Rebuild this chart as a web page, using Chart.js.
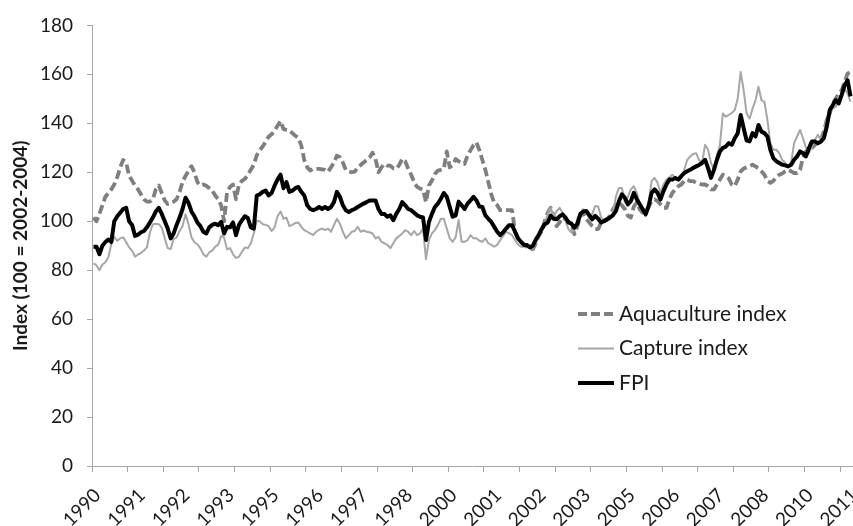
<!DOCTYPE html>
<html lang="en">
<head>
  <meta charset="UTF-8">
  <title>Fish price index</title>
  <script src="https://cdn.jsdelivr.net/npm/chart.js"></script>
  <style>
    body {
      margin: 0;
      background: #fff;
    }
    #wrap {
      width: 853px;
      height: 526px;
    }
  </style>
</head>
<body>
  <div id="wrap"><canvas id="fpi_chart" width="853" height="526"></canvas></div>

  <script>
    // Monthly index values, Jan 1990 - Apr 2011 (one row per year)
    const startYear = 1990;
    const tickYears = ['1990', '1991', '1992', '1993', '1995', '1996', '1997', '1998', '2000',
                       '2001', '2002', '2003', '2005', '2006', '2007', '2008', '2010', '2011'];
    const labelEvery = 15;   // a year label every 15 months
    const tickEvery = 12;    // a tick mark every 12 months

    const aquaculture = [
      101.5, 100, 103, 106.5, 110, 111.5, 113, 115, 118, 122, 125, 124,
      118.5, 116.6, 114.5, 113, 111, 109, 108, 108, 109, 113, 114.6, 111.5,
      108.5, 107, 107.5, 108, 109, 112, 116, 118.5, 120.5, 122.5, 120, 116,
      114.6, 115, 114.5, 113.5, 112.5, 110.5, 109, 106.5, 100, 112, 114, 115,
      109, 115, 116.5, 117.3, 119, 121, 123, 127, 129, 130.5, 132.5, 134.5,
      135.5, 137, 139, 141, 137.6, 137.3, 137, 136, 134.9, 134, 131, 125,
      122, 120.7, 121.4, 121.4, 121.4, 121.2, 121, 120.2, 122, 124, 126.8, 126.2,
      124, 121, 120.3, 120, 120.3, 122, 123, 124, 125, 126, 128, 125.4,
      120, 122, 123.4, 122.7, 122.7, 121.6, 121.4, 123, 125.5, 124.5, 121.5, 119,
      116, 114, 113.3, 113, 107.8, 114.6, 116.6, 119.3, 120.7, 121, 121.4, 128.5,
      122, 123, 125.4, 124.5, 124, 123.4, 126.8, 129, 131, 132.2, 129, 125,
      121, 116, 111, 107.5, 106.5, 104.5, 104.5, 104.5, 104.5, 104.5, 95.7, 93,
      91.6, 90.5, 89.5, 88.6, 88.6, 91, 94, 96, 100, 103.5, 105.5, 102.2,
      98, 99.5, 101.5, 100.8, 99.8, 98.8, 94.7, 98, 102.2, 103.5, 100.8, 99.5,
      98, 96.8, 96.8, 99.5, 100.1, 100.8, 102.2, 104.9, 107, 107.6, 106.5, 104.9,
      102.2, 101.5, 106, 107.6, 104.9, 103.5, 104, 106, 108.2, 108.9, 108.2, 106.9,
      105.5, 105.5, 109, 111.6, 113, 114.3, 115, 116.4, 117, 116.4, 116.4, 115.7,
      115.3, 115, 115, 114.3, 113, 113, 115, 117, 119, 118.4, 117.5, 115,
      114.3, 117, 120.4, 121.5, 122, 122.4, 123.1, 122.4, 121.6, 120.4, 119, 116.4,
      115.7, 116.5, 118, 119, 119.5, 120.4, 121, 120.4, 119.7, 119.7, 121, 126,
      128.5, 129, 129.9, 131.2, 131.9, 133.2, 136.6, 141.4, 144, 148.1, 150, 152,
      153.5, 156.9, 160.3, 161
    ];

    const capture = [
      82.8, 82, 80, 82.3, 83.2, 85.3, 90.7, 93.6, 92, 93, 93.4, 91.5,
      89.3, 88, 85.5, 86.4, 87, 88, 89.3, 95.4, 98.8, 99, 98.8, 97.4,
      93, 89, 88.6, 92.7, 93.4, 96, 98, 102.8, 98.8, 93.4, 91.4, 90.5,
      89, 86.5, 85.5, 87.3, 88, 89.6, 90.3, 94, 93.3, 88.5, 89, 86.5,
      85, 85.5, 87.5, 89.3, 89, 91, 95, 100.2, 100, 98.8, 98.5, 98,
      96, 97.5, 102, 104, 101, 101.5, 98, 98.5, 99.3, 99.5, 97.7, 96.4,
      95.7, 95, 94.3, 95.7, 96.5, 97, 96.4, 97, 95.7, 98.4, 101, 99,
      95.7, 93, 94.3, 95.7, 96, 97.7, 95.7, 96.2, 95.7, 95.5, 95, 93,
      93.6, 91.6, 91, 90.3, 89, 91, 93, 94, 95, 96.4, 95.7, 94.3,
      96, 94.3, 95, 97, 84.5, 92.3, 95, 96.4, 98.4, 101, 101, 97,
      93, 91.6, 93.5, 100.4, 91.6, 91.6, 92.3, 94.3, 93, 93, 92, 91.6,
      93, 91, 90.3, 89.6, 90.3, 92.3, 94, 95.7, 95, 94.3, 92.3, 90.5,
      89.6, 89.6, 90.3, 90, 89, 91.5, 93.4, 96.8, 98.8, 103, 105.5, 102.2,
      104, 105.5, 103.5, 100.1, 96.8, 95.4, 96.8, 100.8, 103.5, 104.9, 103.5, 101,
      103, 106.2, 106, 101.5, 100.4, 100.1, 100.8, 103.5, 110.3, 113.6, 113.6, 107.6,
      110, 113, 114.3, 111.6, 106.9, 105.5, 102, 107.6, 116.4, 117.7, 115.7, 111.6,
      115, 117, 118, 119, 117.7, 117, 117.7, 121, 125.1, 126.5, 127.5, 127.8,
      125, 123.8, 131.2, 129.2, 123.8, 121, 127, 131, 144, 142.7, 143.4, 144.2,
      145.4, 150, 161, 153.5, 144, 142, 146, 149.5, 154.9, 149.5, 148.8, 141.4,
      131.9, 129.2, 129.2, 127.8, 125, 123.8, 122.4, 123.8, 131.9, 134.6, 137.3, 133.9,
      130, 127.8, 130.5, 133.2, 135.3, 133.2, 136, 142, 145.4, 146, 146.7, 150.8,
      151.5, 154.2, 152.2, 148.8
    ];

    const fpi = [
      89.6, 89.6, 86.5, 90, 91.5, 92.5, 91.5, 100, 102, 103.5, 105, 105.5,
      100, 98.5, 94, 94.5, 95.5, 96, 97.5, 99.5, 101.5, 104, 105.5, 103,
      100, 97, 93, 95, 98.5, 101.5, 105, 109.6, 107.5, 104, 102, 99.5,
      98, 95.7, 95, 97.5, 98.5, 99, 98.4, 99.7, 95, 97.7, 97.5, 99.5,
      94.3, 98.5, 100.4, 102, 101.3, 97.5, 97, 110.5, 111, 112, 112.5, 110.5,
      111.5, 114.5, 117, 119, 113.5, 116, 112, 112.5, 113.5, 114, 112, 110.5,
      106.5, 105, 104.5, 105, 105.8, 105, 105.8, 105, 105.8, 107.8, 112, 110,
      106.5, 104.5, 103.8, 104.5, 105, 105.8, 106.5, 107.2, 107.8, 108.5, 108.5, 108.5,
      105, 103, 103, 101.8, 102.4, 100.4, 103, 105, 107.8, 106.5, 105, 104.5,
      103.5, 102.4, 101.8, 101.5, 92.3, 99.7, 103, 105.8, 107.2, 109.2, 111.5, 110,
      105.8, 101.8, 102.4, 108, 106.5, 105, 107.2, 108.5, 110, 108.5, 106, 105.8,
      102.4, 101, 99.7, 97.7, 95.7, 94.3, 95.5, 97, 98.4, 98.4, 95.7, 93,
      91.6, 90.3, 90.3, 89.3, 90, 92.5, 94.5, 96.8, 98.8, 99.5, 102.2, 101,
      100.8, 102, 102.8, 101.5, 99.5, 99, 97.4, 99, 103, 104, 104.2, 102.5,
      100.8, 102.2, 101, 99.5, 100, 100.8, 101.5, 102.5, 104.2, 108.2, 111, 109.6,
      106.9, 108.2, 111.6, 109, 106.9, 104.9, 102.8, 106.2, 111.6, 113, 111.6, 108.9,
      112.3, 115, 117, 117, 117.7, 117, 118.4, 119.7, 120.4, 121, 121.8, 122.4,
      123, 123.8, 125.1, 121.8, 117.7, 121, 125.1, 128.5, 130, 130.5, 131.9, 131.2,
      133.9, 135.9, 143.4, 138, 133, 132.6, 136, 134.6, 139.3, 136.6, 136, 134.6,
      129.2, 125.8, 124.5, 123.8, 123.1, 122.8, 122.4, 123.1, 125.1, 126.5, 128.5, 127.8,
      126.5, 129.9, 132.6, 132.6, 131.9, 132.5, 133.9, 138.6, 145.4, 147.4, 149.5, 148.1,
      151.5, 155.5, 157.6, 151
    ];

    // one category per month
    const months = fpi.map(function(v, i) {
      return (startYear + Math.floor(i / 12)) + '-' + String(i % 12 + 1).padStart(2, '0');
    });

    const axisGray = '#a6a6a6';
    const textColor = '#1a1a1a';

    // legend drawn inside the plot, like the original
    const insideLegend = {
      id: 'insideLegend',
      afterDraw(chart) {
        const ctx = chart.ctx;
        ctx.save();
        ctx.font = '21px Lato';
        ctx.fillStyle = textColor;
        ctx.textBaseline = 'middle';
        chart.data.datasets.forEach(function(ds, i) {
          const y = 314 + i * 34.5;
          ctx.beginPath();
          ctx.setLineDash(ds.borderDash || []);
          ctx.lineWidth = ds.borderWidth;
          ctx.strokeStyle = ds.borderColor;
          ctx.moveTo(578, y);
          ctx.lineTo(614, y);
          ctx.stroke();
          ctx.setLineDash([]);
          ctx.fillText(ds.label, 619, y);
        });
        ctx.restore();
      }
    };

    Chart.defaults.font.family = 'Lato';
    Chart.defaults.color = textColor;

    new Chart(document.getElementById('fpi_chart').getContext('2d'), {
      type: 'line',
      data: {
        labels: months,
        datasets: [
          {
            label: 'Aquaculture index',
            data: aquaculture,
            borderColor: '#7f7f7f',
            borderWidth: 3.8,
            borderDash: [9, 4],
            order: 2
          },
          {
            label: 'Capture index',
            data: capture,
            borderColor: '#a6a6a6',
            borderWidth: 2,
            order: 1
          },
          {
            label: 'FPI',
            data: fpi,
            borderColor: '#000000',
            borderWidth: 4,
            order: 0
          }
        ]
      },
      options: {
        responsive: false,
        animation: false,
        layout: { padding: { top: 21, right: 1, left: 0, bottom: 0 } },
        elements: {
          point: { radius: 0 },
          line: { tension: 0, fill: false, borderJoinStyle: 'round' }
        },
        plugins: {
          legend: { display: false },
          tooltip: { enabled: false }
        },
        scales: {
          x: {
            offset: true,
            afterFit: function(scale) {
              scale.height = 60;
              // the rotated labels may hang past the edges, as in the original
              scale.paddingLeft = 0;
              scale.paddingRight = 0;
            },
            border: { color: axisGray, width: 1 },
            grid: {
              offset: true,
              drawOnChartArea: false,
              tickLength: 6,
              color: function(ctx) {
                return ctx.index % tickEvery === 0 ? axisGray : 'rgba(0,0,0,0)';
              }
            },
            ticks: {
              autoSkip: false,
              maxRotation: 45,
              minRotation: 45,
              padding: 12,
              labelOffset: 4,
              font: { size: 19 },
              callback: function(value, index) {
                return index % labelEvery === 0 ? tickYears[index / labelEvery] : '';
              }
            }
          },
          y: {
            min: 0,
            max: 180,
            afterFit: function(scale) { scale.width = 92; },
            border: { color: axisGray, width: 1 },
            grid: {
              drawOnChartArea: false,
              tickLength: 5,
              color: axisGray
            },
            ticks: {
              stepSize: 20,
              padding: 14,
              font: { size: 19 }
            },
            title: {
              display: true,
              text: 'Index (100 = 2002-2004)',
              font: { size: 19, weight: 'bold' },
              padding: { top: 9, bottom: 0 }
            }
          }
        }
      },
      plugins: [insideLegend]
    });
  </script>
</body>
</html>
